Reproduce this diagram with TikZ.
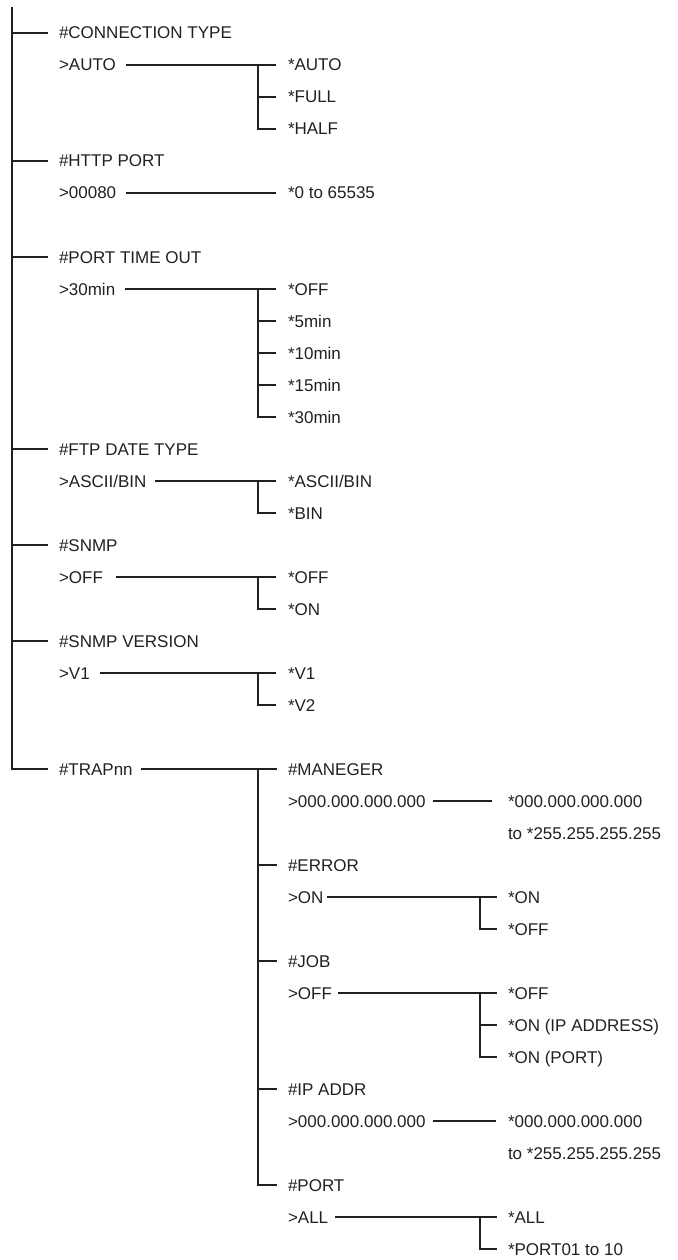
\documentclass[tikz,border=0pt]{standalone}
\usepackage{fontspec}
\setmainfont{Liberation Sans}
\definecolor{ink}{RGB}{35,31,32}
\begin{document}
\begin{tikzpicture}[x=1pt,y=-1pt,line width=1.1pt,draw=ink,
  lbl/.style={anchor=west,inner sep=0pt,outer sep=0pt,text height=12pt,text depth=0pt,text=ink,
    font=\fontsize{17pt}{20pt}\selectfont}]
\useasboundingbox (0,0) rectangle (677,1260);
\coordinate (top) at (12,7);
% ---- level 1 headings
\node[lbl] (hCT) at (59,33) {\#CONNECTION TYPE};
\node[lbl] (hHT) at (59,161) {\#HTTP PORT};
\node[lbl] (hPT) at (59,257) {\#PORT TIME OUT};
\node[lbl] (hFT) at (59,449) {\#FTP DATE TYPE};
\node[lbl] (hSN) at (59,545) {\#SNMP};
\node[lbl] (hSV) at (59,641) {\#SNMP VERSION};
\node[lbl] (hTR) at (59,769) {\#TRAPnn};
% ---- values
\node[lbl] (vCT) at (59,65) {>AUTO};
\node[lbl] (vHT) at (59,193) {>00080};
\node[lbl] (vPT) at (59,289) {>30min};
\node[lbl] (vFT) at (59,481) {>ASCII/BIN};
\node[lbl] (vSN) at (59,577) {>OFF};
\node[lbl] (vSV) at (59,673) {>V1};
% ---- options
\node[lbl] (oCT1) at (288,65) {*AUTO};
\node[lbl] (oCT2) at (288,97) {*FULL};
\node[lbl] (oCT3) at (288,129) {*HALF};
\node[lbl] (oHT) at (288,193) {*0 to 65535};
\node[lbl] (oPT1) at (288,289) {*OFF};
\node[lbl] (oPT2) at (288,321) {*5min};
\node[lbl] (oPT3) at (288,353) {*10min};
\node[lbl] (oPT4) at (288,385) {*15min};
\node[lbl] (oPT5) at (288,417) {*30min};
\node[lbl] (oFT1) at (288,481) {*ASCII/BIN};
\node[lbl] (oFT2) at (288,513) {*BIN};
\node[lbl] (oSN1) at (288,577) {*OFF};
\node[lbl] (oSN2) at (288,609) {*ON};
\node[lbl] (oSV1) at (288,673) {*V1};
\node[lbl] (oSV2) at (288,705) {*V2};
% ---- TRAP sub-tree
\node[lbl] (tMan) at (288,769) {\#MANEGER};
\node[lbl] (vMan) at (288,801) {>000.000.000.000};
\node[lbl] (oMan1) at (508,801) {*000.000.000.000};
\node[lbl] (oMan2) at (508,833) {to *255.255.255.255};
\node[lbl] (tErr) at (288,865) {\#ERROR};
\node[lbl] (vErr) at (288,897) {>ON};
\node[lbl] (oErr1) at (508,897) {*ON};
\node[lbl] (oErr2) at (508,929) {*OFF};
\node[lbl] (tJob) at (288,961) {\#JOB};
\node[lbl] (vJob) at (288,993) {>OFF};
\node[lbl] (oJob1) at (508,993) {*OFF};
\node[lbl] (oJob2) at (508,1025) {*ON (IP ADDRESS)};
\node[lbl] (oJob3) at (508,1057) {*ON (PORT)};
\node[lbl] (tIP) at (288,1089) {\#IP ADDR};
\node[lbl] (vIP) at (288,1121) {>000.000.000.000};
\node[lbl] (oIP1) at (508,1121) {*000.000.000.000};
\node[lbl] (oIP2) at (508,1153) {to *255.255.255.255};
\node[lbl] (tPort) at (288,1185) {\#PORT};
\node[lbl] (vPort) at (288,1217) {>ALL};
\node[lbl] (oPort1) at (508,1217) {*ALL};
\node[lbl] (oPort2) at (508,1249) {*PORT01 to 10};
% ---- main trunk
\draw (top) |- ([xshift=-11pt]hTR.west);
\foreach \h in {hCT,hHT,hPT,hFT,hSN,hSV}
  \draw (top |- \h.west) -- ([xshift=-11pt]\h.west);
% ---- level 2 connectors
\draw ([xshift=10pt]vCT.east) -- ([xshift=-12pt]oCT1.west);
\draw ([xshift=-30pt]oCT1.west) |- ([xshift=-12pt]oCT3.west);
\draw ([xshift=-30pt]oCT2.west) -- ([xshift=-12pt]oCT2.west);
\draw ([xshift=10pt]vHT.east) -- ([xshift=-12pt]oHT.west);
\draw ([xshift=10pt]vPT.east) -- ([xshift=-12pt]oPT1.west);
\draw ([xshift=-30pt]oPT1.west) |- ([xshift=-12pt]oPT5.west);
\foreach \o in {oPT2,oPT3,oPT4}
  \draw ([xshift=-30pt]\o.west) -- ([xshift=-12pt]\o.west);
\draw ([xshift=9pt]vFT.east) -- ([xshift=-12pt]oFT1.west);
\draw ([xshift=-30pt]oFT1.west) |- ([xshift=-12pt]oFT2.west);
\draw ([xshift=13pt]vSN.east) -- ([xshift=-12pt]oSN1.west);
\draw ([xshift=-30pt]oSN1.west) |- ([xshift=-12pt]oSN2.west);
\draw ([xshift=10pt]vSV.east) -- ([xshift=-12pt]oSV1.west);
\draw ([xshift=-30pt]oSV1.west) |- ([xshift=-12pt]oSV2.west);
% ---- TRAP connectors
\draw ([xshift=8pt]hTR.east) -- ([xshift=-11pt]tMan.west);
\draw ([xshift=-30pt]tMan.west) |- ([xshift=-11pt]tPort.west);
\foreach \t in {tErr,tJob,tIP}
  \draw ([xshift=-30pt]\t.west) -- ([xshift=-11pt]\t.west);
\draw ([xshift=7pt]vMan.east) -- ([xshift=-16pt]oMan1.west);
\draw ([xshift=4pt]vErr.east) -- ([xshift=-11pt]oErr1.west);
\draw ([xshift=-28pt]oErr1.west) |- ([xshift=-11pt]oErr2.west);
\draw ([xshift=6pt]vJob.east) -- ([xshift=-11pt]oJob1.west);
\draw ([xshift=-28pt]oJob1.west) |- ([xshift=-11pt]oJob3.west);
\draw ([xshift=-28pt]oJob2.west) -- ([xshift=-11pt]oJob2.west);
\draw ([xshift=7pt]vIP.east) -- ([xshift=-12pt]oIP1.west);
\draw ([xshift=7pt]vPort.east) -- ([xshift=-11pt]oPort1.west);
\draw ([xshift=-28pt]oPort1.west) |- ([xshift=-11pt]oPort2.west);
\end{tikzpicture}
\end{document}
